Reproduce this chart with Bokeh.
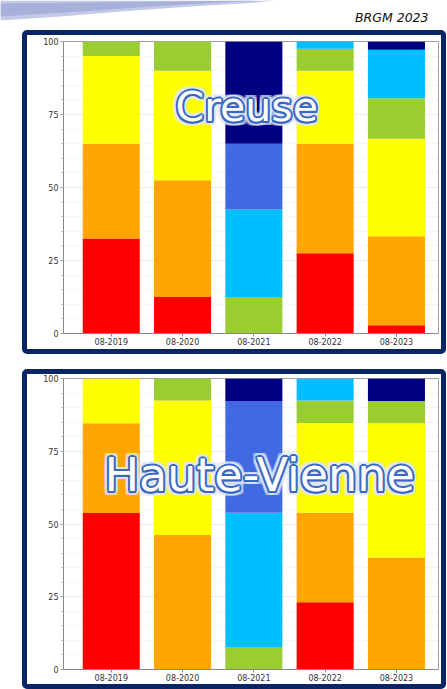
from bokeh.plotting import figure
from bokeh.models import Range1d, FixedTicker, SingleIntervalTicker, Label, ColumnDataSource
from bokeh.layouts import column
from bokeh.embed import file_html
from bokeh.resources import INLINE

# ---------------- data ----------------
periods = ["08-2019", "08-2020", "08-2021", "08-2022", "08-2023"]
classes = ["tres_bas", "bas", "mod_bas", "normal", "mod_haut", "haut", "tres_haut"]
colors = ["#ff0000", "#ffa500", "#ffff00", "#9acd32", "#00bfff", "#4169e1", "#000080"]

creuse_tres_bas = [32.5, 12.5, 0.0, 27.5, 2.8]
creuse_bas = [32.5, 40.0, 0.0, 37.5, 30.5]
creuse_mod_bas = [30.0, 37.5, 0.0, 25.0, 33.4]
creuse_normal = [5.0, 10.0, 12.5, 7.5, 13.9]
creuse_mod_haut = [0.0, 0.0, 30.0, 2.5, 16.6]
creuse_haut = [0.0, 0.0, 22.5, 0.0, 0.0]
creuse_tres_haut = [0.0, 0.0, 35.0, 0.0, 2.8]

hv_tres_bas = [53.8, 0.0, 0.0, 23.1, 0.0]
hv_bas = [30.8, 46.2, 0.0, 30.8, 38.5]
hv_mod_bas = [15.4, 46.2, 0.0, 30.8, 46.1]
hv_normal = [0.0, 7.6, 7.7, 7.7, 7.7]
hv_mod_haut = [0.0, 0.0, 46.2, 7.6, 0.0]
hv_haut = [0.0, 0.0, 38.4, 0.0, 0.0]
hv_tres_haut = [0.0, 0.0, 7.7, 0.0, 7.7]

creuse = [creuse_tres_bas, creuse_bas, creuse_mod_bas, creuse_normal,
          creuse_mod_haut, creuse_haut, creuse_tres_haut]
haute_vienne = [hv_tres_bas, hv_bas, hv_mod_bas, hv_normal,
                hv_mod_haut, hv_haut, hv_tres_haut]

FRAME = "#0b2463"


def no_frame_align(p):
    if "frame_align" in p.properties():
        p.frame_align = False


def add_outlined_label(p, text, x, y, size):
    glow = [(dx, dy) for dx in (-4, -2, 0, 2, 4) for dy in (-4, -2, 0, 2, 4)
            if abs(dx) == 4 or abs(dy) == 4]
    edge = [(-2, 0), (2, 0), (0, -2), (0, 2), (-1.5, -1.5), (1.5, 1.5),
            (-1.5, 1.5), (1.5, -1.5), (-1, 0), (1, 0), (0, 1), (0, -1)]
    for dx, dy in glow:
        p.add_layout(Label(x=x, y=y, x_offset=dx, y_offset=dy, text=text,
                           text_font="DejaVu Sans", text_font_size=f"{size}px",
                           text_align="center", text_baseline="alphabetic",
                           text_color="#dfe8f8", text_alpha=0.55))
    for dx, dy in edge:
        p.add_layout(Label(x=x, y=y, x_offset=dx, y_offset=dy, text=text,
                           text_font="DejaVu Sans", text_font_size=f"{size}px",
                           text_align="center", text_baseline="alphabetic",
                           text_color="#3b67c4"))
    p.add_layout(Label(x=x, y=y, text=text, text_font="DejaVu Sans",
                       text_font_size=f"{size}px", text_align="center",
                       text_baseline="alphabetic", text_color="#ffffff"))


def make_panel(data, height, top, bottom, margin, name, nx, ny, nsize):
    src = ColumnDataSource(dict(x=list(range(len(periods))),
                                **{c: v for c, v in zip(classes, data)}))
    p = figure(width=424, height=height, x_range=Range1d(-0.67, 4.59),
               y_range=Range1d(0, 100), output_backend="svg",
               toolbar_location=None, min_border_left=36, min_border_right=13,
               min_border_top=top, min_border_bottom=bottom,
               background_fill_color="white", border_fill_color="white")
    no_frame_align(p)
    p.vbar_stack(classes, x="x", width=0.8, color=colors, source=src, line_width=0)

    p.xaxis.ticker = FixedTicker(ticks=list(range(len(periods))))
    p.xaxis.major_label_overrides = {i: lab for i, lab in enumerate(periods)}
    p.xaxis.minor_tick_line_color = None
    p.yaxis.ticker = SingleIntervalTicker(interval=25, num_minor_ticks=5)
    for ax in (p.xaxis, p.yaxis):
        ax.axis_line_color = "#888888"
        ax.major_tick_line_color = "#888888"
        ax.major_tick_out = 3
        ax.major_tick_in = 0
        ax.major_label_standoff = 2
        ax.major_label_text_font = "DejaVu Sans"
        ax.major_label_text_font_size = "8px"
        ax.major_label_text_color = "#333333"
    p.xaxis.major_label_standoff = 1
    p.yaxis.minor_tick_line_color = "#aaaaaa"
    p.yaxis.minor_tick_out = 2
    p.yaxis.minor_tick_in = 0
    p.xgrid.visible = False
    p.ygrid.grid_line_color = "#dcdcdc"
    p.ygrid.grid_line_dash = "2 2"
    p.ygrid.minor_grid_line_color = "#ececec"
    p.ygrid.minor_grid_line_dash = "2 2"
    p.outline_line_color = "#a0a0a0"

    add_outlined_label(p, name, nx, ny, nsize)

    p.styles = {"border": f"5px solid {FRAME}", "border-radius": "5px"}
    p.margin = margin
    return p


# header with swoosh and credit (page pixel coordinates)
h = figure(width=447, height=30, x_range=Range1d(0, 447), y_range=Range1d(30, 0),
           output_backend="svg", toolbar_location=None, min_border=0,
           x_axis_location=None, y_axis_location=None)
no_frame_align(h)
h.grid.visible = False
h.outline_line_color = None
h.patch([0, 275, 250, 190, 120, 60, 0], [0, 0, 2.5, 6, 11, 16, 20],
        color="#c3c9e7", line_width=0)
h.patch([0, 255, 220, 150, 80, 0], [3, 0, 2, 6, 11, 16],
        color="#a6b0d8", line_width=0)
h.add_layout(Label(x=428, y=17, text="BRGM 2023", text_font="DejaVu Sans",
                   text_font_size="12.5px", text_font_style="italic",
                   text_align="right", text_baseline="alphabetic",
                   text_color="#111111"))

p1 = make_panel(creuse, 324, 6, 26, (0, 0, 0, 22), "Creuse", 1.90, 77.5, 41)
p2 = make_panel(haute_vienne, 320, 4, 25, (15, 0, 0, 22), "Haute-Vienne", 2.08, 66.7, 46)

layout = column(h, p1, p2)
open("out.html", "w").write(file_html(layout, INLINE))
